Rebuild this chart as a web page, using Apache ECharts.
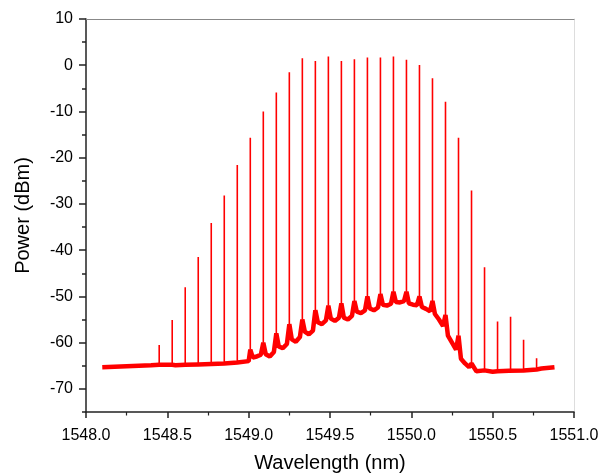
<!DOCTYPE html>
<html>
<head>
<meta charset="utf-8">
<script src="https://cdn.jsdelivr.net/npm/echarts@6/dist/echarts.min.js"></script>
<style>html,body{margin:0;padding:0;background:#fff}#c{width:602px;height:474px}</style>
</head>
<body>
<div id="c"></div>
<script>
// Comb line wavelengths (nm) and peak powers (dBm)
const peakWl = [1548.45, 1548.53, 1548.61, 1548.69, 1548.77, 1548.85, 1548.93, 1549.01, 1549.09, 1549.17,
  1549.25, 1549.33, 1549.41, 1549.49, 1549.57, 1549.65, 1549.73, 1549.81, 1549.89, 1549.97,
  1550.05, 1550.13, 1550.21, 1550.29, 1550.37, 1550.45, 1550.53, 1550.61, 1550.69, 1550.77];
const peakDb = [-60.5, -55.1, -48.0, -41.5, -34.1, -28.2, -21.6, -15.7, -10.0, -5.9,
  -1.5, 1.5, 0.9, 1.9, 0.9, 1.3, 1.7, 1.7, 1.9, 1.2,
  0.05, -2.8, -7.9, -15.7, -27.1, -43.7, -55.4, -54.4, -59.4, -63.4];
// Level at the foot (skirt) of each comb line (dBm)
const peakBase = [-64.8, -64.8, -64.8, -64.7, -64.6, -64.5, -64.3, -61.5, -60.0, -58.0,
  -56.0, -55.0, -53.0, -52.0, -51.5, -51.0, -50.0, -49.5, -49.0, -49.0,
  -50.0, -51.0, -54.0, -58.5, -64.5, -66.0, -66.2, -66.1, -66.0, -65.8];
// Noise floor between lines
const floorWl = [1548.10, 1548.25, 1548.40, 1548.55, 1548.70, 1548.85, 1549.00,
  1549.025, 1549.05, 1549.075, 1549.105, 1549.13, 1549.155, 1549.185, 1549.21, 1549.235,
  1549.265, 1549.29, 1549.315, 1549.345, 1549.37, 1549.395, 1549.425, 1549.45, 1549.475,
  1549.505, 1549.53, 1549.555, 1549.585, 1549.61, 1549.635, 1549.665, 1549.69, 1549.715,
  1549.745, 1549.77, 1549.795, 1549.825, 1549.85, 1549.875, 1549.905, 1549.93, 1549.955,
  1549.985, 1550.01, 1550.035, 1550.065, 1550.09, 1550.115, 1550.145, 1550.17, 1550.195,
  1550.225, 1550.25, 1550.275, 1550.305, 1550.33, 1550.355,
  1550.40, 1550.50, 1550.60, 1550.70, 1550.80, 1550.88];
const floorDb = [-65.3, -65.1, -64.9, -64.9, -64.7, -64.5, -64.0,
  -63.2, -63.0, -62.6, -62.5, -63.0, -62.0, -60.8, -61.2, -60.3,
  -59.3, -59.8, -58.8, -57.6, -58.2, -57.4, -55.6, -56.0, -55.2,
  -54.8, -55.3, -54.6, -54.6, -55.0, -54.2, -53.3, -53.6, -53.0,
  -52.6, -53.0, -52.4, -51.8, -52.0, -51.6, -51.2, -51.3, -51.0,
  -51.5, -51.8, -51.9, -52.3, -52.7, -53.2, -53.8, -55.0, -56.4,
  -58.5, -60.0, -61.5, -63.5, -64.5, -65.3,
  -66.2, -66.3, -66.1, -65.9, -65.6, -65.3];
const yMajor = [-70, -60, -50, -40, -30, -20, -10, 0, 10];
const yMinor = [-75, -65, -55, -45, -35, -25, -15, -5, 5];

// build series data
const floorData = [];
floorWl.forEach((w, i) => floorData.push([w, floorDb[i]]));
peakWl.forEach((w, i) => floorData.push([w, peakBase[i]]));
floorData.sort((a, b) => a[0] - b[0]);
const peakData = [];
peakWl.forEach((w, i) => { peakData.push([w, peakBase[i]]); peakData.push([w, peakDb[i]]); peakData.push([w, '-']); });

const font = 'Liberation Sans, Arial, sans-serif';
const chart = echarts.init(document.getElementById('c'), null, {renderer: 'canvas'});
chart.setOption({
  animation: false,
  backgroundColor: '#fff',
  grid: {left: 86, right: 28, top: 19, bottom: 62, containLabel: false, outerBoundsMode: 'none'},
  xAxis: [{
    type: 'value', min: 1548, max: 1551, interval: 0.5,
    name: 'Wavelength (nm)', nameLocation: 'middle', nameGap: 41,
    nameTextStyle: {fontFamily: font, fontSize: 20, color: '#000'},
    axisLine: {onZero: false, lineStyle: {color: '#222', width: 1.5}},
    axisTick: {length: 6, lineStyle: {color: '#222', width: 1.5}},
    minorTick: {show: true, splitNumber: 2, length: 3.5, lineStyle: {color: '#222', width: 1.2}},
    axisLabel: {fontFamily: font, fontSize: 16, color: '#000', margin: 16, formatter: v => v.toFixed(1)},
    splitLine: {show: false}
  }, {
    type: 'value', min: 1548, max: 1551, position: 'top',
    axisLine: {show: true, onZero: false, lineStyle: {color: '#888', width: 1}},
    axisTick: {show: false}, axisLabel: {show: false}, splitLine: {show: false}
  }],
  yAxis: [{
    type: 'value', min: -75, max: 10,
    name: 'Power (dBm)', nameLocation: 'middle', nameGap: 53,
    nameTextStyle: {fontFamily: font, fontSize: 20, color: '#000'},
    axisLine: {onZero: false, lineStyle: {color: '#222', width: 1.5}},
    axisTick: {length: 7, customValues: yMajor, lineStyle: {color: '#222', width: 1.5}},
    axisLabel: {fontFamily: font, fontSize: 16, color: '#000', margin: 13, customValues: yMajor},
    splitLine: {show: false}
  }, {
    type: 'value', min: -75, max: 10, position: 'left',
    axisLine: {show: false, onZero: false},
    axisTick: {show: true, length: 4, customValues: yMinor, lineStyle: {color: '#222', width: 1.5}},
    axisLabel: {show: false}, splitLine: {show: false}
  }, {
    type: 'value', min: -75, max: 10, position: 'right',
    axisLine: {show: true, onZero: false, lineStyle: {color: '#ddd', width: 1}},
    axisTick: {show: false}, axisLabel: {show: false}, splitLine: {show: false}
  }],
  series: [{
    type: 'line', data: floorData, showSymbol: false, symbol: 'none',
    lineStyle: {color: '#ff0000', width: 4.5}, z: 2
  }, {
    type: 'line', data: peakData, showSymbol: false, symbol: 'none', connectNulls: false,
    lineStyle: {color: '#ff0000', width: 1.6}, z: 3
  }]
});
</script>
</body>
</html>
